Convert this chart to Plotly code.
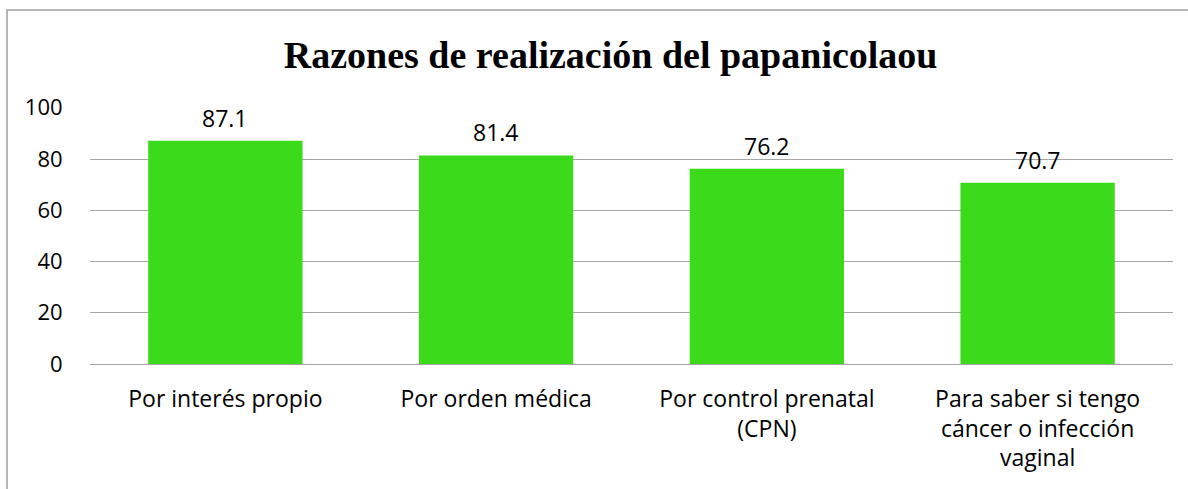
import plotly.graph_objects as go

categories = ['Por interés propio', 'Por orden médica',
              'Por control prenatal<br>(CPN)',
              'Para saber si tengo<br>cáncer o infección<br>vaginal']
values = [87.1, 81.4, 76.2, 70.7]
labels = ['87.1', '81.4', '76.2', '70.7']

W, H = 1188, 489
ml, mr, mt, mb = 90, 15, 107, 125
pw, ph = W - ml - mr, H - mt - mb
FONT = 'Open Sans, sans-serif'

bars = go.Bar(x=categories, y=values,
              marker=dict(color='#3BDA1A', line=dict(width=0)))

fig = go.Figure(data=[bars])
for c, v, t in zip(categories, values, labels):
    fig.add_annotation(x=c, y=v, text=t, showarrow=False, yanchor='middle', yshift=23,
                       font=dict(family=FONT, size=23, color='black'))

fig.update_layout(
    width=W, height=H,
    margin=dict(l=ml, r=mr, t=mt, b=mb),
    paper_bgcolor='white', plot_bgcolor='white',
    font=dict(family=FONT, size=22, color='black'),
    bargap=0.43,
    showlegend=False,
    title=dict(text='<b>Razones de realización del papanicolaou</b>',
               font=dict(family='Liberation Serif, Times New Roman, serif', size=38, color='black'),
               x=0.514, xanchor='center', y=1 - 55 / H, yanchor='middle'),
    xaxis=dict(showline=False, ticks='outside', ticklen=14, tickcolor='white', tickfont=dict(size=23)),
    yaxis=dict(range=[0, 100.3], tickvals=[0, 20, 40, 60, 80, 100],
               showgrid=True, gridcolor='#a6a6a6', gridwidth=1,
               zeroline=True, zerolinecolor='#a6a6a6', zerolinewidth=1,
               showline=False, ticks='outside', ticklen=22, tickcolor='white',
               tickfont=dict(size=22)),
    shapes=[dict(type='rect', xref='paper', yref='paper',
                 x0=(7 - ml) / pw, x1=(W + 5 - ml) / pw,
                 y0=-1, y1=(H - mb - 10) / ph,
                 line=dict(color='#a0a0a0', width=1.5), fillcolor='rgba(0,0,0,0)', layer='below')],
)

fig.write_html('out.html', config={'displayModeBar': False},
               post_script="document.body.style.margin='0';")
